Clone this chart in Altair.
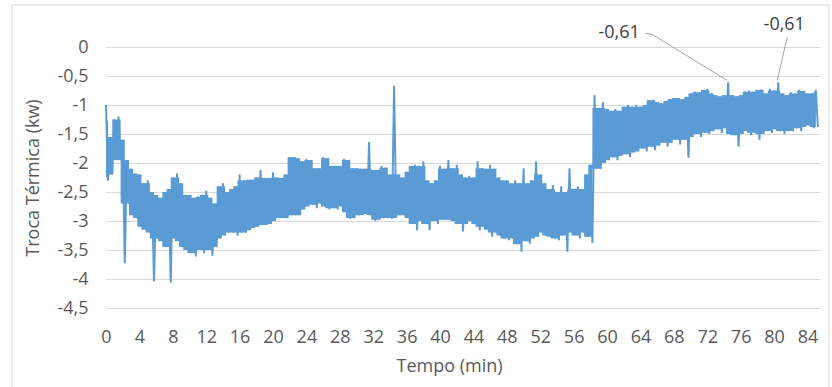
import altair as alt
import pandas as pd

# Sampling of the signal: one (upper, lower) pair every half minute, starting at t=0
step_min = 0.5

hi = [
    -1.0, -1.55, -1.25, -1.2, -1.6, -1.95, -2.1, -2.18, -2.2, -2.35,
    -2.3, -2.5, -2.55, -2.6, -2.5, -2.45, -2.25, -2.18, -2.35, -2.55,
    -2.55, -2.6, -2.58, -2.55, -2.48, -2.6, -2.7, -2.4, -2.35, -2.5,
    -2.45, -2.4, -2.2, -2.3, -2.29, -2.29, -2.25, -2.12, -2.26, -2.26,
    -2.16, -2.25, -2.26, -2.2, -1.9, -1.9, -1.92, -1.97, -1.93, -1.95,
    -2.09, -2.09, -1.9, -1.92, -2.05, -2.05, -2.05, -1.93, -1.95, -2.09,
    -2.09, -2.1, -2.1, -1.64, -2.12, -2.12, -2.05, -2.08, -2.2, -0.67,
    -2.2, -2.25, -2.15, -2.05, -2.03, -2.05, -1.97, -2.3, -2.35, -2.3,
    -2.05, -2.1, -1.95, -2.09, -2.03, -2.2, -2.25, -2.22, -2.25, -1.97,
    -2.09, -2.1, -2.03, -2.1, -2.25, -2.3, -2.3, -2.35, -2.3, -2.35,
    -2.09, -2.35, -2.3, -1.97, -2.2, -2.35, -2.45, -2.38, -2.5, -2.4,
    -2.5, -2.09, -2.45, -2.4, -2.45, -2.2, -2.03, -0.83, -1.05, -0.95,
    -1.07, -1.1, -1.07, -1.1, -1.03, -1.0, -1.03, -1.0, -1.03, -1.0,
    -0.92, -0.91, -0.95, -0.97, -0.93, -0.9, -0.88, -0.88, -0.9, -0.86,
    -0.8, -0.77, -0.78, -0.74, -0.72, -0.8, -0.83, -0.85, -0.83, -0.61,
    -0.83, -0.85, -0.83, -0.77, -0.75, -0.77, -0.74, -0.73, -0.8, -0.72,
    -0.75, -0.61, -0.8, -0.83, -0.78, -0.8, -0.74, -0.76, -0.8, -0.8, -0.74,
]

lo = [
    -2.3, -2.2, -1.95, -1.95, -3.73, -2.7, -2.9, -2.95, -3.1, -3.15,
    -3.2, -4.04, -3.3, -3.35, -3.45, -4.06, -3.3, -3.35, -3.45, -3.5,
    -3.55, -3.61, -3.5, -3.55, -3.5, -3.6, -3.45, -3.3, -3.25, -3.2,
    -3.2, -3.25, -3.2, -3.2, -3.16, -3.12, -3.1, -3.07, -3.07, -3.05,
    -3.0, -2.95, -2.95, -2.95, -2.9, -2.9, -2.9, -2.8, -2.75, -2.72,
    -2.78, -2.7, -2.75, -2.8, -2.78, -2.8, -2.75, -2.85, -2.96, -2.95,
    -2.9, -2.9, -2.88, -2.9, -3.0, -2.98, -2.95, -2.95, -2.96, -2.95,
    -2.9, -2.9, -2.95, -3.05, -3.16, -3.0, -3.05, -3.16, -3.0, -3.05,
    -2.98, -2.98, -2.98, -3.0, -3.05, -3.18, -3.05, -3.0, -3.05, -3.16,
    -3.1, -3.15, -3.27, -3.2, -3.25, -3.3, -3.33, -3.3, -3.4, -3.53,
    -3.35, -3.39, -3.3, -3.27, -3.2, -3.25, -3.27, -3.3, -3.33, -3.25,
    -3.53, -3.2, -3.25, -3.3, -3.2, -3.27, -3.38, -2.1, -2.1, -2.0,
    -1.95, -1.9, -1.95, -1.88, -1.85, -1.9, -1.82, -1.8, -1.75, -1.8,
    -1.72, -1.78, -1.7, -1.65, -1.72, -1.65, -1.6, -1.68, -1.6, -1.91,
    -1.55, -1.5, -1.55, -1.48, -1.5, -1.45, -1.42, -1.48, -1.4, -1.5,
    -1.52, -1.72, -1.5, -1.45, -1.52, -1.48, -1.6, -1.5, -1.45, -1.48,
    -1.42, -1.45, -1.5, -1.45, -1.45, -1.4, -1.45, -1.38, -1.35, -1.4, -1.38,
]

x_ticks = list(range(0, 85, 4))
y_ticks = [0, -0.5, -1, -1.5, -2, -2.5, -3, -3.5, -4, -4.5]

ann_t = [74.5, 80.5]
ann_v = [-0.61, -0.61]
ann_text = ["-0,61", "-0,61"]

# ---------------- build tables ----------------
rows = []
for i, (h, l) in enumerate(zip(hi, lo)):
    t = i * step_min
    rows.append({"t": t, "v": h, "o": 2 * i})
    rows.append({"t": t + step_min / 2, "v": l, "o": 2 * i + 1})
df = pd.DataFrame(rows)

# dense core of the band: running median of the read envelopes (isolated spikes stay on the line)
band = pd.DataFrame({"t": [i * step_min for i in range(len(hi))], "hi": hi, "lo": lo})
band["hi_m"] = band["hi"].rolling(3, center=True, min_periods=1).median()
band["lo_m"] = band["lo"].rolling(3, center=True, min_periods=1).median()
band["hi_m"] = band[["hi_m", "hi"]].min(axis=1)
band["lo_m"] = band[["lo_m", "lo"]].max(axis=1)

X_MAX = 85.5
W, H = 714, 261
ppm = W / X_MAX          # pixels per minute
ppu = H / 4.5            # pixels per kW

# label offsets (pixels) relative to the annotated point: (dx, dy)
lab_off = [(-109, -49), (6, -57)]
# leader line vertices (pixel offsets from the point)
lead_off = [[(-1, -2), (-76, -48), (-83, -49)], [(-1, -2), (9, -45)]]

lab_rows, lead_rows = [], []
for k, (t, v, txt) in enumerate(zip(ann_t, ann_v, ann_text)):
    dx, dy = lab_off[k]
    lab_rows.append({"t": t + dx / ppm, "v": v - dy / ppu, "txt": txt})
    for j, (ox, oy) in enumerate(lead_off[k]):
        lead_rows.append({"t": t + ox / ppm, "v": v - oy / ppu, "g": k, "o": j})
lab_df = pd.DataFrame(lab_rows)
lead_df = pd.DataFrame(lead_rows)

FONT = "Open Sans"
GREY = "#595959"
BLUE = "#5b9bd5"
FS = 18

x_scale = alt.Scale(domain=[0, X_MAX], nice=False, zero=False)
y_scale = alt.Scale(domain=[-4.5, 0], nice=False, zero=False)

x_enc = alt.X(
    "t:Q",
    scale=x_scale,
    axis=alt.Axis(
        values=x_ticks, tickCount=len(x_ticks), title="Tempo (min)", grid=False, domain=False,
        ticks=False, tickSize=0, labelPadding=29, labelBaseline="middle",
        labelFontSize=FS, labelColor=GREY, labelFont=FONT,
        titleFontSize=FS, titleColor=GREY, titleFont=FONT, titleFontWeight="normal",
        titleX=343, titleY=58, titleBaseline="middle",
        labelFlush=False, labelOverlap=False,
    ),
)
y_enc = alt.Y(
    "v:Q",
    scale=y_scale,
    axis=alt.Axis(
        values=y_ticks, tickCount=len(y_ticks), title="Troca Térmica (kw)", grid=True,
        gridColor="#d9d9d9", gridWidth=1, domain=False, ticks=False, tickSize=0,
        labelPadding=18, labelFontSize=FS, labelColor=GREY, labelFont=FONT,
        labelExpr="replace(toString(datum.value), '.', ',')",
        titleFontSize=FS, titleColor=GREY, titleFont=FONT, titleFontWeight="normal",
        titleX=-73, titleBaseline="middle", labelFlush=False, labelOverlap=False,
    ),
)

# light outer frame of the chart (decoration, in pixels relative to the plot origin)
frame = alt.Chart(pd.DataFrame({"a": [0]})).mark_rect(
    fill=None, stroke="#d9d9d9", strokeWidth=1, clip=False
).encode(
    x=alt.value(-94), x2=alt.value(723), y=alt.value(-42), y2=alt.value(350)
)

area = alt.Chart(band).mark_area(color=BLUE, opacity=1, interpolate="step").encode(
    x=x_enc, y=y_enc, y2="lo_m:Q"
).transform_calculate(v="datum.hi_m")

line = alt.Chart(df).mark_line(color=BLUE, strokeWidth=2).encode(
    x=alt.X("t:Q", scale=x_scale), y=alt.Y("v:Q", scale=y_scale), order="o:Q"
)

leaders = alt.Chart(lead_df).mark_line(color="#a6a6a6", strokeWidth=1, clip=False).encode(
    x="t:Q", y="v:Q", detail="g:N", order="o:Q"
)

labels = alt.Chart(lab_df).mark_text(
    font=FONT, fontSize=FS, color="#404040", align="center", baseline="middle", clip=False
).encode(x="t:Q", y="v:Q", text="txt:N")

chart = (
    alt.layer(area, line, leaders, labels, frame)
    .properties(
        width=W, height=H,
        autosize=alt.AutoSizeParams(type="none"),
        padding={"left": 106, "top": 47, "right": 12, "bottom": 79},
        background="white",
    )
    .configure_view(stroke=None)
)

chart.save("out.html", embed_options={"renderer": "svg", "actions": False})
